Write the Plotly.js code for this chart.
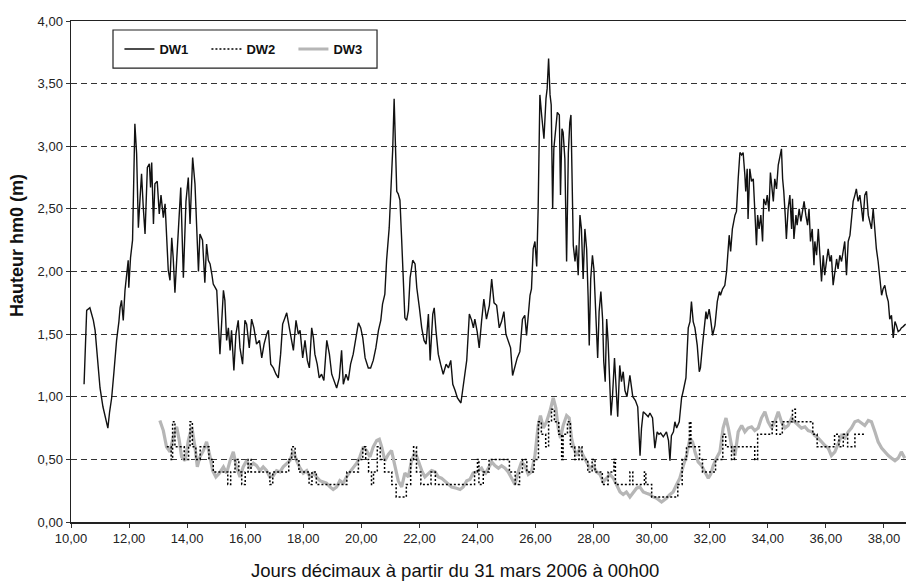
<!DOCTYPE html>
<html><head><meta charset="utf-8">
<script src="https://cdn.plot.ly/plotly-3.0.1.min.js"></script>
<style>html,body{margin:0;padding:0;background:#fff}#chart{width:906px;height:584px}</style>
</head><body><div id="chart"></div>
<script>
// ---- data ----
const dw1X = [10.45,10.54,10.65,10.77,10.83,10.90,11.00,11.10,11.20,11.27,11.33,11.40,11.48,11.57,11.65,11.69,11.74,11.80,11.86,11.92,11.97,11.99,12.05,12.12,12.20,12.26,12.32,12.38,12.43,12.49,12.55,12.63,12.70,12.74,12.78,12.84,12.89,12.97,13.04,13.10,13.18,13.24,13.30,13.35,13.41,13.47,13.52,13.58,13.64,13.70,13.78,13.87,13.96,14.04,14.10,14.19,14.27,14.33,14.39,14.44,14.53,14.61,14.67,14.73,14.79,14.85,14.90,15.02,15.07,15.13,15.25,15.30,15.36,15.42,15.48,15.53,15.61,15.68,15.76,15.82,15.91,15.99,16.05,16.14,16.22,16.30,16.39,16.49,16.57,16.65,16.74,16.80,16.88,16.97,17.06,17.14,17.22,17.29,17.37,17.43,17.52,17.60,17.66,17.75,17.83,17.89,17.98,18.06,18.14,18.21,18.29,18.35,18.40,18.48,18.55,18.63,18.71,18.81,18.90,18.98,19.06,19.15,19.24,19.32,19.38,19.47,19.55,19.63,19.72,19.82,19.90,19.98,20.05,20.13,20.24,20.32,20.41,20.50,20.59,20.67,20.73,20.81,20.87,20.96,21.02,21.08,21.13,21.19,21.22,21.27,21.33,21.39,21.45,21.50,21.56,21.62,21.68,21.77,21.85,21.91,22.00,22.08,22.16,22.23,22.31,22.37,22.46,22.51,22.57,22.65,22.73,22.82,22.92,23.00,23.08,23.15,23.23,23.31,23.43,23.51,23.63,23.72,23.80,23.86,23.91,23.99,24.06,24.14,24.22,24.31,24.41,24.49,24.57,24.66,24.75,24.83,24.91,24.98,25.06,25.14,25.21,25.29,25.37,25.46,25.55,25.63,25.69,25.75,25.81,25.86,25.92,25.98,26.04,26.09,26.15,26.21,26.24,26.29,26.36,26.40,26.45,26.50,26.54,26.59,26.63,26.68,26.75,26.82,26.86,26.91,26.95,27.01,27.07,27.13,27.18,27.22,27.25,27.30,27.36,27.41,27.47,27.53,27.58,27.64,27.70,27.76,27.81,27.85,27.90,27.96,28.01,28.07,28.14,28.19,28.25,28.31,28.35,28.40,28.45,28.50,28.56,28.60,28.65,28.72,28.78,28.83,28.90,28.96,29.02,29.08,29.15,29.25,29.35,29.44,29.52,29.60,29.65,29.71,29.80,29.88,29.94,30.03,30.11,30.19,30.25,30.31,30.40,30.51,30.58,30.63,30.68,30.75,30.80,30.86,30.95,31.03,31.09,31.18,31.26,31.32,31.37,31.43,31.49,31.57,31.64,31.68,31.75,31.81,31.87,31.91,31.98,32.03,32.10,32.18,32.26,32.33,32.37,32.44,32.52,32.58,32.64,32.67,32.72,32.78,32.87,32.92,32.98,33.04,33.10,33.15,33.21,33.24,33.29,33.32,33.38,33.44,33.50,33.55,33.61,33.65,33.70,33.76,33.82,33.86,33.93,33.98,34.04,34.09,34.14,34.19,34.24,34.30,34.36,34.41,34.47,34.51,34.55,34.60,34.64,34.70,34.76,34.82,34.85,34.90,34.97,35.01,35.08,35.14,35.20,35.25,35.31,35.37,35.42,35.47,35.53,35.59,35.62,35.68,35.74,35.79,35.85,35.91,35.96,36.02,36.08,36.14,36.19,36.25,36.31,36.37,36.42,36.48,36.54,36.60,36.65,36.71,36.77,36.83,36.88,36.94,37.00,37.05,37.11,37.17,37.23,37.28,37.34,37.40,37.46,37.51,37.57,37.63,37.69,37.74,37.80,37.86,37.92,37.97,38.03,38.09,38.15,38.20,38.26,38.32,38.38,38.43,38.49,38.55,38.60,38.66,38.75];
const dw1Y = [1.10,1.69,1.71,1.61,1.53,1.34,1.07,0.92,0.82,0.75,0.88,0.99,1.20,1.45,1.60,1.71,1.77,1.61,1.85,2.00,2.09,1.87,2.11,2.25,3.18,2.94,2.35,2.59,2.78,2.51,2.30,2.83,2.86,2.67,2.87,2.38,2.70,2.72,2.46,2.61,2.43,2.54,2.30,2.01,1.93,2.27,2.11,1.83,2.09,2.35,2.67,1.95,2.56,2.75,2.38,2.91,2.70,2.35,2.00,2.30,2.25,1.91,2.22,2.09,2.06,1.98,1.90,1.85,1.63,1.34,1.85,1.77,1.45,1.55,1.37,1.53,1.21,1.50,1.61,1.39,1.26,1.61,1.58,1.39,1.62,1.55,1.42,1.45,1.31,1.42,1.50,1.53,1.26,1.23,1.18,1.15,1.34,1.58,1.63,1.67,1.55,1.45,1.37,1.61,1.50,1.53,1.31,1.45,1.29,1.23,1.55,1.47,1.34,1.26,1.15,1.18,1.13,1.45,1.34,1.18,1.13,1.07,1.15,1.37,1.10,1.18,1.13,1.26,1.34,1.50,1.59,1.55,1.47,1.31,1.23,1.23,1.29,1.39,1.53,1.61,1.74,1.82,2.09,2.35,2.62,2.97,3.38,2.94,2.64,2.62,2.57,2.25,1.85,1.63,1.61,1.69,1.95,2.09,2.06,1.87,1.71,1.55,1.45,1.42,1.66,1.29,1.66,1.71,1.53,1.34,1.26,1.18,1.26,1.23,1.29,1.10,1.05,0.99,0.95,1.10,1.29,1.66,1.61,1.55,1.62,1.52,1.39,1.60,1.78,1.62,1.73,1.94,1.75,1.73,1.55,1.60,1.68,1.50,1.44,1.39,1.17,1.25,1.31,1.36,1.62,1.65,1.49,1.65,1.81,1.86,2.18,2.24,2.04,2.50,3.41,3.25,3.17,3.06,3.38,3.46,3.70,3.41,3.33,2.50,2.98,3.09,3.27,3.25,2.61,3.14,3.11,2.90,2.08,2.95,3.19,3.25,2.88,2.21,2.08,2.21,1.97,2.45,2.34,1.94,2.34,2.18,1.81,1.41,1.94,2.13,2.02,1.65,1.31,1.68,1.84,1.62,1.28,1.12,1.62,1.44,1.12,0.85,1.00,1.31,1.05,0.84,1.25,1.12,1.20,1.05,1.00,1.17,1.00,0.97,0.92,0.53,0.75,0.88,0.86,0.84,0.87,0.83,0.59,0.72,0.70,0.71,0.68,0.72,0.65,0.49,0.69,0.72,0.80,0.75,0.80,0.99,1.05,1.15,1.55,1.60,1.76,1.60,1.55,1.41,1.20,1.23,1.41,1.55,1.68,1.62,1.70,1.62,1.49,1.57,1.76,1.84,1.81,1.86,1.89,2.00,2.24,2.29,2.16,2.34,2.45,2.48,2.74,2.95,2.93,2.95,2.77,2.64,2.82,2.42,2.82,2.72,2.74,2.50,2.21,2.45,2.34,2.45,2.24,2.58,2.53,2.61,2.48,2.79,2.66,2.56,2.74,2.66,2.85,2.90,2.98,2.74,2.64,2.45,2.26,2.50,2.61,2.34,2.58,2.26,2.45,2.37,2.50,2.40,2.50,2.56,2.45,2.37,2.50,2.24,2.34,2.05,2.24,2.13,2.34,2.13,1.92,2.13,1.97,2.08,2.18,2.08,2.13,1.89,2.02,2.10,2.02,2.13,2.08,2.18,2.24,1.97,2.24,2.29,2.45,2.56,2.61,2.66,2.56,2.61,2.50,2.40,2.61,2.64,2.45,2.40,2.34,2.50,2.29,2.18,2.08,1.92,1.81,1.86,1.89,1.81,1.76,1.62,1.65,1.47,1.60,1.57,1.52,1.53,1.55,1.56,1.58];

const dw2X = [13.30,13.45,13.50,13.58,13.75,13.90,14.05,14.10,14.18,14.30,14.45,14.60,14.75,14.90,15.20,15.40,15.50,15.65,15.78,15.88,16.00,16.10,16.20,16.85,16.95,17.30,17.50,17.60,17.72,17.85,18.20,18.30,18.45,19.35,19.50,19.90,20.05,20.15,20.25,20.35,20.42,20.55,20.65,20.80,21.05,21.20,21.55,21.70,21.80,21.90,22.05,22.40,22.55,23.90,24.00,24.05,24.20,24.40,25.10,25.30,25.45,25.55,25.70,25.95,26.10,26.20,26.35,26.45,26.55,26.65,26.80,26.90,26.95,27.10,27.20,27.35,27.50,27.60,27.80,27.95,28.05,28.30,28.50,28.70,28.75,29.25,29.35,29.75,29.80,30.00,30.90,31.05,31.20,31.30,31.35,31.65,31.75,32.20,32.45,32.55,32.75,32.85,33.55,33.65,34.15,34.30,34.50,34.85,34.95,35.55,35.70,36.30,36.45,36.60,36.75,37.00,37.35];
const dw2Y = [0.6,0.5,0.8,0.6,0.6,0.5,0.6,0.8,0.6,0.5,0.6,0.6,0.5,0.4,0.4,0.3,0.4,0.5,0.4,0.3,0.4,0.5,0.4,0.3,0.4,0.4,0.5,0.6,0.5,0.4,0.3,0.4,0.3,0.3,0.4,0.5,0.6,0.5,0.4,0.3,0.4,0.6,0.5,0.4,0.3,0.2,0.3,0.5,0.6,0.4,0.3,0.4,0.3,0.4,0.5,0.3,0.4,0.5,0.4,0.3,0.4,0.5,0.4,0.5,0.8,0.7,0.6,0.8,0.9,0.8,0.7,0.5,0.7,0.8,0.6,0.5,0.6,0.5,0.4,0.5,0.4,0.3,0.4,0.5,0.3,0.4,0.3,0.4,0.3,0.2,0.3,0.5,0.6,0.8,0.6,0.5,0.4,0.5,0.7,0.6,0.5,0.6,0.5,0.7,0.8,0.7,0.8,0.9,0.8,0.7,0.6,0.7,0.6,0.7,0.6,0.7,0.7];

const dw3X = [13.06,13.18,13.29,13.41,13.52,13.64,13.73,13.81,13.93,14.04,14.16,14.27,14.35,14.44,14.56,14.67,14.79,14.88,14.99,15.11,15.25,15.36,15.48,15.59,15.70,15.82,15.93,16.05,16.16,16.28,16.39,16.51,16.62,16.74,16.85,16.97,17.08,17.20,17.31,17.43,17.54,17.66,17.77,17.89,18.00,18.12,18.23,18.34,18.46,18.57,18.69,18.80,18.92,19.03,19.15,19.26,19.38,19.49,19.61,19.72,19.84,19.95,20.07,20.18,20.30,20.41,20.53,20.62,20.70,20.81,20.93,21.04,21.16,21.27,21.39,21.50,21.62,21.73,21.85,21.96,22.08,22.19,22.31,22.42,22.54,22.65,22.76,22.94,23.11,23.28,23.40,23.51,23.63,23.74,23.85,23.97,24.08,24.14,24.26,24.37,24.49,24.60,24.72,24.83,24.95,25.06,25.17,25.29,25.40,25.52,25.63,25.75,25.86,25.98,26.09,26.17,26.27,26.38,26.49,26.61,26.70,26.78,26.86,26.95,27.07,27.16,27.24,27.32,27.41,27.53,27.64,27.76,27.87,27.99,28.10,28.22,28.33,28.45,28.56,28.68,28.79,28.91,29.02,29.13,29.25,29.36,29.48,29.59,29.71,29.82,29.94,30.05,30.17,30.34,30.51,30.63,30.74,30.86,30.97,31.09,31.20,31.32,31.41,31.49,31.60,31.72,31.83,31.95,32.03,32.12,32.23,32.35,32.46,32.56,32.64,32.75,32.87,32.98,33.10,33.21,33.32,33.44,33.55,33.67,33.78,33.90,34.01,34.13,34.24,34.36,34.47,34.59,34.70,34.82,34.93,35.05,35.16,35.28,35.39,35.51,35.62,35.74,35.85,35.97,36.08,36.19,36.31,36.42,36.54,36.65,36.77,36.88,37.00,37.11,37.23,37.34,37.46,37.57,37.69,37.80,37.92,38.03,38.15,38.26,38.38,38.49,38.60,38.72];
const dw3Y = [0.81,0.73,0.60,0.56,0.68,0.76,0.65,0.52,0.49,0.65,0.76,0.60,0.44,0.52,0.57,0.64,0.52,0.41,0.36,0.39,0.44,0.39,0.49,0.56,0.44,0.36,0.44,0.49,0.44,0.47,0.45,0.41,0.44,0.41,0.36,0.37,0.41,0.40,0.44,0.47,0.49,0.57,0.49,0.43,0.39,0.41,0.36,0.39,0.36,0.33,0.32,0.31,0.28,0.26,0.28,0.33,0.31,0.36,0.40,0.43,0.47,0.52,0.60,0.57,0.52,0.60,0.65,0.66,0.60,0.49,0.54,0.57,0.44,0.33,0.28,0.39,0.36,0.49,0.56,0.49,0.41,0.36,0.39,0.41,0.40,0.36,0.35,0.31,0.28,0.27,0.26,0.28,0.33,0.34,0.39,0.40,0.42,0.43,0.38,0.43,0.48,0.45,0.43,0.45,0.43,0.40,0.35,0.30,0.40,0.48,0.45,0.38,0.40,0.53,0.77,0.85,0.75,0.80,0.88,0.99,0.91,0.75,0.67,0.77,0.85,0.83,0.67,0.59,0.53,0.59,0.53,0.48,0.43,0.45,0.40,0.38,0.32,0.35,0.38,0.35,0.30,0.24,0.22,0.24,0.20,0.23,0.27,0.28,0.24,0.23,0.22,0.20,0.19,0.16,0.19,0.22,0.24,0.30,0.35,0.45,0.53,0.67,0.64,0.56,0.48,0.45,0.40,0.35,0.38,0.45,0.51,0.56,0.75,0.83,0.75,0.61,0.53,0.72,0.77,0.72,0.75,0.76,0.73,0.75,0.83,0.88,0.80,0.75,0.80,0.88,0.80,0.75,0.77,0.83,0.80,0.77,0.75,0.76,0.73,0.72,0.69,0.67,0.64,0.61,0.59,0.53,0.56,0.63,0.69,0.67,0.72,0.75,0.80,0.81,0.79,0.77,0.81,0.80,0.72,0.64,0.59,0.56,0.53,0.51,0.49,0.51,0.56,0.51];

const seriesNames = ['DW1', 'DW2', 'DW3'];
const xTickVals = [10,12,14,16,18,20,22,24,26,28,30,32,34,36,38];
const yTickVals = [0,0.5,1,1.5,2,2.5,3,3.5,4];
const xTitle = 'Jours décimaux à partir du 31 mars 2006 à 00h00';
const yTitle = 'Hauteur hm0 (m)';

const FONT = 'Liberation Sans, Arial, sans-serif';

const traces = [
  {x: dw3X, y: dw3Y, name: seriesNames[2], type: 'scatter', mode: 'lines',
   line: {color: '#b6b6b6', width: 3.2}, legendrank: 3},
  {x: dw2X, y: dw2Y, name: seriesNames[1], type: 'scatter', mode: 'lines',
   line: {color: '#000', width: 1.5, dash: '2px,2px', shape: 'hv'}, legendrank: 2},
  {x: dw1X, y: dw1Y, name: seriesNames[0], type: 'scatter', mode: 'lines',
   line: {color: '#111', width: 1.4}, legendrank: 1}
];

const layout = {
  width: 906, height: 584,
  margin: {l: 71, r: 0, t: 21, b: 62},
  paper_bgcolor: '#fff', plot_bgcolor: '#fff',
  separators: ', ',
  font: {family: FONT, color: '#222'},
  showlegend: true,
  legend: {
    orientation: 'h', x: 0.058, y: 0.944, xanchor: 'left', yanchor: 'middle',
    bgcolor: 'rgba(0,0,0,0)', borderwidth: 0,
    font: {family: FONT, size: 13, color: '#111', weight: 'bold'},
    entrywidth: 42, entrywidthmode: 'pixels', traceorder: 'normal'
  },
  shapes: [
    {type: 'rect', xref: 'paper', yref: 'paper', x0: 0.0503, x1: 0.3665, y0: 0.906, y1: 0.982,
     line: {color: '#222', width: 1.2}, fillcolor: '#fff', layer: 'below'}
  ],
  annotations: [
    {text: xTitle, xref: 'paper', yref: 'paper', x: 0.46, y: -0.096,
     xanchor: 'center', yanchor: 'middle', showarrow: false,
     font: {family: FONT, size: 18.5, color: '#111'}},
    {text: yTitle, xref: 'paper', yref: 'paper', x: -0.0647, y: 0.553,
     xanchor: 'center', yanchor: 'middle', showarrow: false, textangle: -90,
     font: {family: FONT, size: 18, color: '#111', weight: 'bold'}}
  ],
  xaxis: {
    range: [10, 38.76], tickvals: xTickVals, tickformat: '.2f',
    ticks: 'outside', ticklen: 4, tickcolor: '#333',
    showline: true, linecolor: '#222', linewidth: 1.5, mirror: true,
    showgrid: false, zeroline: false,
    tickfont: {family: FONT, size: 13, color: '#222'}
  },
  yaxis: {
    range: [0, 4], tickvals: yTickVals, tickformat: '.2f',
    ticks: 'outside', ticklen: 4, tickcolor: '#333',
    showline: true, linecolor: '#222', linewidth: 1.5,
    showgrid: true, gridcolor: '#333', gridwidth: 1, griddash: '6px,4px',
    zeroline: false,
    tickfont: {family: FONT, size: 13, color: '#222'}
  }
};

Plotly.newPlot('chart', traces, layout, {staticPlot: true, displayModeBar: false});
</script></body></html>
